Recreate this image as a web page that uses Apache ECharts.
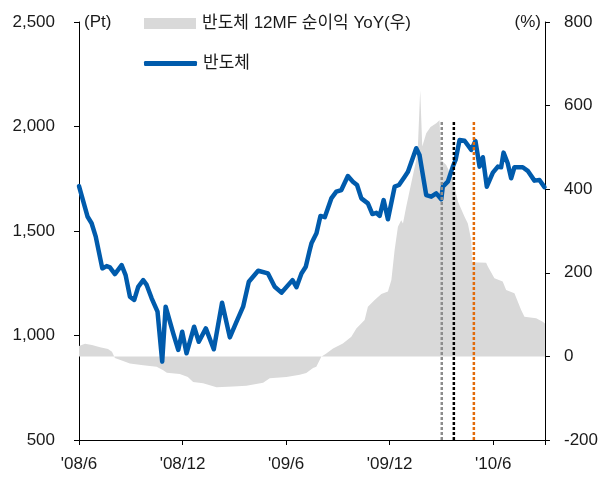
<!DOCTYPE html>
<html>
<head>
<meta charset="utf-8">
<script src="https://cdn.jsdelivr.net/npm/echarts@6/dist/echarts.min.js"></script>
<style>
  html, body { margin: 0; padding: 0; background: #fff; }
  #chart { width: 601px; height: 479px; }
</style>
</head>
<body>
<div id="chart"></div>
<script>
// x positions: months since 2008/6
const xTickLabels = { 0: "'08/6", 6: "'08/12", 12: "'09/6", 18: "'09/12", 24: "'10/6" };

// 반도체 지수 (Pt, left axis)
const lineMonths = [0, 0.50, 0.73, 0.97, 1.35, 1.60, 1.79, 2.08, 2.47, 2.70, 2.95, 3.20, 3.43, 3.72, 3.92,
  4.21, 4.55, 4.82, 5.02, 5.46, 5.75, 5.98, 6.23, 6.67, 6.94, 7.35, 7.81, 8.29, 8.74, 9.13, 9.51, 9.84,
  10.38, 10.95, 11.34, 11.73, 12.37, 12.60, 12.89, 13.14, 13.37, 13.47, 13.76, 13.99, 14.24, 14.62, 14.91,
  15.20, 15.58, 15.87, 16.11, 16.36, 16.74, 17.00, 17.23, 17.42, 17.65, 17.90, 18.29, 18.54, 18.87, 19.06,
  19.54, 19.73, 20.12, 20.41, 20.70, 20.99, 21.08, 21.37, 21.66, 21.82, 22.05, 22.34, 22.73, 22.97, 23.21,
  23.40, 23.63, 23.98, 24.27, 24.46, 24.60, 24.84, 25.04, 25.23, 25.71, 26.00, 26.39, 26.68, 26.97];
const lineValues = [1715, 1568, 1537, 1473, 1321, 1332, 1326, 1294, 1337, 1289, 1186, 1170, 1233, 1265, 1242,
  1178, 1114, 875, 1138, 1010, 931, 1018, 915, 1042, 970, 1034, 934, 1157, 991, 1066, 1138, 1257,
  1310, 1297, 1233, 1205, 1265, 1231, 1297, 1329, 1409, 1441, 1489, 1572, 1566, 1656, 1688,
  1696, 1763, 1736, 1720, 1656, 1632, 1581, 1587, 1572, 1648, 1556, 1712, 1720, 1760, 1784,
  1896, 1864, 1672, 1664, 1680, 1652, 1712, 1736, 1808, 1840, 1935, 1932, 1888, 1931, 1808,
  1853, 1712, 1779, 1808, 1805, 1875, 1824, 1752, 1805, 1805, 1788, 1741, 1744, 1710];

// 반도체 12MF 순이익 YoY (%, right axis)
const areaMonths = [0, 0.35, 0.75, 1.22, 1.68, 1.91, 2.08, 2.95, 3.72, 4.50, 4.88, 5.09, 5.84, 6.31, 6.61,
  7.19, 7.97, 8.93, 9.70, 10.67, 11.05, 12.02, 12.79, 13.17, 13.56, 13.75, 14.04, 14.33, 14.72, 15.29,
  15.78, 16.07, 16.55, 16.74, 17.13, 17.52, 17.90, 18.10, 18.29, 18.48, 18.67, 18.77, 18.96, 19.25,
  19.54, 19.64, 19.77, 19.89, 20.12, 20.37, 20.70, 20.89, 20.98, 21.28, 21.67, 21.96, 22.34, 22.53,
  22.73, 22.78, 23.59, 23.69, 24.07, 24.55, 24.75, 25.23, 25.62, 25.81, 26.49, 26.87, 27.0];
const areaValues = [25, 30, 27, 22, 18, 11, -4, -17, -21, -25, -33, -39, -42, -49, -61,
  -64, -74, -72, -70, -63, -52, -49, -44, -40, -28, -25, -1, 7, 19, 31,
  47, 67, 87, 119, 135, 149, 155, 183, 255, 310, 326, 318, 358, 414,
  470, 506, 637, 502, 534, 549, 558, 565, 470, 458, 422, 370, 334, 318,
  278, 225, 224, 215, 187, 179, 159, 151, 111, 95, 91, 83, 79];

// 점선 표시 시점
const markerMonths = [21.02, 21.72, 22.88];
const markerColors = ['#8c8c8c', '#000000', '#e26b0a'];
const markerRange = [500, 2025];

const zip = (xs, ys) => xs.map((x, i) => [x, ys[i]]);

const FONT = "'Liberation Sans', 'Noto Sans CJK KR', sans-serif";
const chart = echarts.init(document.getElementById('chart'));

const markerSeries = markerMonths.map((m, i) => ({
  name: 'marker' + i,
  type: 'line',
  yAxisIndex: 0,
  data: [[m, markerRange[0]], [m, markerRange[1]]],
  symbol: 'none',
  silent: true,
  z: 4,
  lineStyle: { color: markerColors[i], width: 2.5, type: [3, 2] }
}));

chart.setOption({
  animation: false,
  textStyle: { fontFamily: FONT },
  grid: { left: 79, right: 55, top: 22, bottom: 39 },
  legend: [
    {
      data: [{ name: '반도체 12MF 순이익 YoY(우)', icon: 'rect' }],
      left: 139, top: 10,
      itemWidth: 52, itemHeight: 11, itemGap: 0,
      textStyle: { fontSize: 17, color: '#1a1a1a', fontFamily: FONT, padding: [0, 0, 0, 1] }
    },
    {
      data: [{ name: '반도체', icon: 'roundRect' }],
      left: 139, top: 50,
      itemWidth: 53, itemHeight: 5, itemGap: 0,
      textStyle: { fontSize: 17, color: '#1a1a1a', fontFamily: FONT, padding: [0, 0, 0, 1] }
    }
  ],
  graphic: [
    { type: 'text', left: 84, top: 14, style: { text: '(Pt)', font: '17px ' + FONT, fill: '#1a1a1a' } },
    { type: 'text', right: 60, top: 14, style: { text: '(%)', font: '17px ' + FONT, fill: '#1a1a1a', textAlign: 'right' } }
  ],
  xAxis: {
    type: 'value',
    min: 0, max: 27,
    interval: 6,
    splitLine: { show: false },
    axisLine: { onZero: false, lineStyle: { color: '#000', width: 1 } },
    axisTick: { length: 5, lineStyle: { color: '#000' } },
    axisLabel: {
      margin: 16, fontSize: 17, color: '#1a1a1a',
      formatter: v => xTickLabels[v] || ''
    }
  },
  yAxis: [
    {
      type: 'value',
      min: 500, max: 2500, interval: 500,
      splitLine: { show: false },
      axisLine: { show: true, lineStyle: { color: '#000', width: 1 } },
      axisTick: { show: true, length: 5, lineStyle: { color: '#000' } },
      axisLabel: {
        margin: 24, fontSize: 17, color: '#1a1a1a',
        formatter: v => v.toLocaleString('en-US')
      }
    },
    {
      type: 'value',
      min: -200, max: 800, interval: 200,
      position: 'right',
      splitLine: { show: false },
      axisLine: { show: true, onZero: false, lineStyle: { color: '#000', width: 1 } },
      axisTick: { show: true, length: 5, lineStyle: { color: '#000' } },
      axisLabel: { margin: 19, fontSize: 17, color: '#1a1a1a' }
    }
  ],
  series: [
    {
      name: '반도체 12MF 순이익 YoY(우)',
      type: 'line',
      yAxisIndex: 1,
      data: zip(areaMonths, areaValues),
      symbol: 'none',
      z: 1,
      itemStyle: { color: '#d9d9d9' },
      lineStyle: { width: 0, color: '#d9d9d9' },
      areaStyle: { color: '#d9d9d9', opacity: 1 }
    },
    {
      name: '반도체',
      type: 'line',
      yAxisIndex: 0,
      data: zip(lineMonths, lineValues),
      symbol: 'none',
      z: 3,
      itemStyle: { color: '#005bac' },
      lineStyle: { width: 4.5, color: '#005bac', join: 'round', cap: 'round' }
    },
    ...markerSeries
  ]
});
</script>
</body>
</html>
